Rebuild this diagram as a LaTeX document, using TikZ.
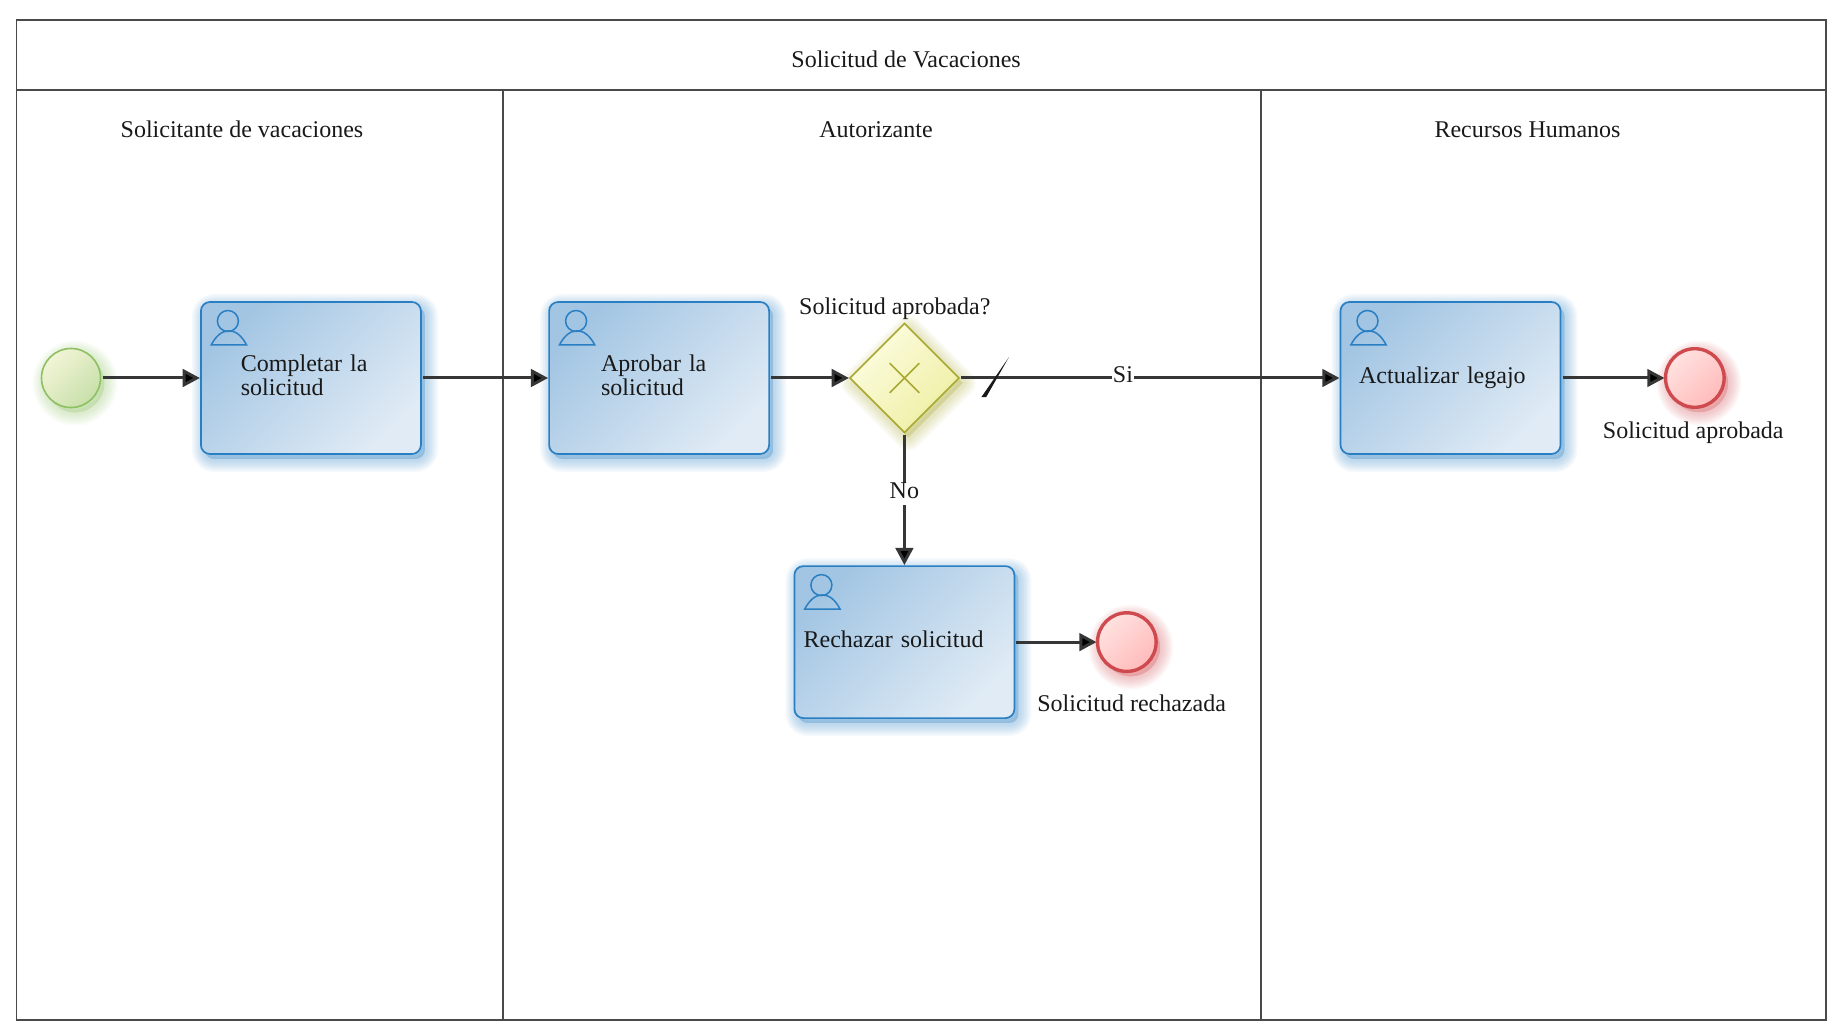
\documentclass[tikz,border=0pt]{standalone}
\usepackage{fontspec}
\setmainfont{Liberation Serif}
\usepackage{xcolor}
\usetikzlibrary{arrows.meta,positioning,shapes.geometric,shapes.misc}

\definecolor{inkgrey}{HTML}{363636}
\definecolor{laneline}{HTML}{4A4A4A}
\definecolor{taskline}{HTML}{2A7FC2}
\definecolor{startline}{HTML}{8DC063}
\definecolor{endline}{HTML}{CF4A4F}
\definecolor{gateline}{HTML}{A8A832}

\newcommand{\tail}{\rule[-3.2pt]{0pt}{1pt}}

\tikzset{
  glow/.style 2 args={preaction={draw=#1,fill=#1,opacity=.045,line width=#2,line join=round,
      transform canvas={xshift=2pt,yshift=-2.5pt}}},
  softshadow/.style={glow={#1}{13pt},glow={#1}{11.5pt},glow={#1}{10pt},glow={#1}{8.5pt},glow={#1}{7pt},
    glow={#1}{5.5pt},glow={#1}{4pt},glow={#1}{2.5pt}},
  lane/.style={draw=laneline,line width=.75pt,rectangle,outer sep=0pt,inner sep=0pt},
  txt/.style={inner sep=0pt,outer sep=0pt,text height=8pt,text depth=3pt,text=black!90},
  task/.style={rectangle,rounded corners=4.5pt,draw=taskline,line width=.85pt,outer sep=0pt,inner sep=0pt,
    minimum width=110pt,minimum height=76pt,align=left,text=black!90,
    font=\fontsize{12}{12}\selectfont,
    top color=taskA,bottom color=taskB,shading angle=45,softshadow=taskline},
  startev/.style={circle,draw=startline,line width=.8pt,outer sep=0pt,inner sep=0pt,minimum size=29.5pt,
    top color=startA,bottom color=startB,shading angle=45,softshadow=startline},
  endev/.style={circle,draw=endline,line width=1.7pt,outer sep=0pt,inner sep=0pt,minimum size=29.3pt,
    top color=endA,bottom color=endB,shading angle=45,softshadow=endline},
  gateway/.style={diamond,aspect=1,draw=gateline,line width=.8pt,outer sep=0pt,inner sep=0pt,minimum size=54.5pt,
    top color=gateA,bottom color=gateB,shading angle=45,softshadow=gateline},
  flow/.style={draw=inkgrey,line width=1.5pt,shorten <=1pt,shorten >=.5pt,
    -{Triangle[length=8.6pt,width=8.8pt]}},
  flowname/.style={txt,fill=white,inner xsep=.3pt,inner ysep=0pt},
  usericon/.pic={
    \draw[taskline,line width=.75pt] (13.5pt,-9.5pt) circle (5.25pt);
    \draw[taskline,line width=.75pt] (5.15pt,-21.5pt) .. controls (7.5pt,-17pt) and (10.5pt,-14.4pt) .. (14pt,-14.4pt)
      .. controls (17.5pt,-14.4pt) and (20.5pt,-17pt) .. (22.85pt,-21.5pt) -- cycle;
  }
}
\definecolor{taskA}{HTML}{A2C5E3}
\definecolor{taskB}{HTML}{E0EBF5}
\definecolor{startA}{HTML}{F2F4D6}
\definecolor{startB}{HTML}{C8E0AA}
\definecolor{endA}{HTML}{FFE2E0}
\definecolor{endB}{HTML}{FFBBBA}
\definecolor{gateA}{HTML}{FCFCE0}
\definecolor{gateB}{HTML}{EFEFA4}

\begin{document}
\begin{tikzpicture}[font=\fontsize{12}{14}\selectfont]
  \useasboundingbox (0pt,0pt) rectangle (917.5pt,-513pt);

  % pool and lanes
  \node[lane, minimum width=904.75pt, minimum height=35pt, anchor=north west] (pool) at (8.25pt,-10pt) {};
  \node[lane, minimum width=243.25pt, minimum height=465pt, anchor=north west] (lanea) at (pool.south west) {};
  \node[lane, minimum width=379pt, minimum height=465pt, right=0pt of lanea] (laneb) {};
  \node[lane, minimum width=282.5pt, minimum height=465pt, right=0pt of laneb] (lanec) {};

  \node[txt, below=16pt of pool.north, xshift=-7.6pt]  (poolname)  {Solicitud de Vacaciones};
  \node[txt, below=15.7pt of lanea.north, xshift=-8.9pt] (laneaname) {Solicitante de vacaciones};
  \node[txt, below=15.7pt of laneb.north, xshift=-3pt]   (lanebname) {Autorizante};
  \node[txt, below=15.7pt of lanec.north, xshift=-8pt]   (lanecname) {Recursos Humanos};

  % process
  \node[startev] (start) at (35.5pt,-189pt) {};
  \node[task, text width=70pt, right=50.2pt of start]  (completar)  {Completar la\\solicitud\tail};
  \node[task, text width=58pt, right=64.1pt of completar] (aprobar) {Aprobar la\\solicitud\tail};
  \node[gateway, right=40.4pt of aprobar]              (gate)       {};
  \node[cross out, draw=gateline, line width=.8pt, minimum size=14pt, inner sep=0pt] (gatemark) at (gate) {};
  \node[task, text width=91.4pt, right=190.8pt of gate] (actualizar) {Actualizar legajo};
  \node[endev, right=52.5pt of actualizar]             (endok)      {};
  \node[task, text width=100.8pt, below=66.8pt of gate] (rechazar)  {Rechazar solicitud\tail};
  \node[endev, right=41.55pt of rechazar]              (endno)      {};

  \node[txt, above=1.4pt of gate, xshift=-4.8pt]   (gatename)  {Solicitud aprobada?};
  \node[txt, below=7.7pt of endok, xshift=-.8pt]   (endokname) {Solicitud aprobada};
  \node[txt, below=12.2pt of endno, xshift=2.4pt]  (endnoname) {Solicitud rechazada};

  \pic at (completar.north west)  {usericon};
  \pic at (aprobar.north west)    {usericon};
  \pic at (actualizar.north west) {usericon};
  \pic at (rechazar.north west)   {usericon};

  \path[flow]
  (start)      edge (completar)
  (completar)  edge (aprobar)
  (aprobar)    edge (gate)
  (gate)       edge node [pos=0.43,flowname] {Si} (actualizar)
  (gate)       edge node [pos=0.46,flowname] {No} (rechazar)
  (rechazar)   edge (endno)
  (actualizar) edge (endok);

  % default flow mark
  \fill[black!90] ([shift={(11.2pt,-9.6pt)}]gate.east) -- ([shift={(13.6pt,-9.6pt)}]gate.east)
    -- ([shift={(25pt,10.4pt)}]gate.east) -- cycle;
\end{tikzpicture}
\end{document}
